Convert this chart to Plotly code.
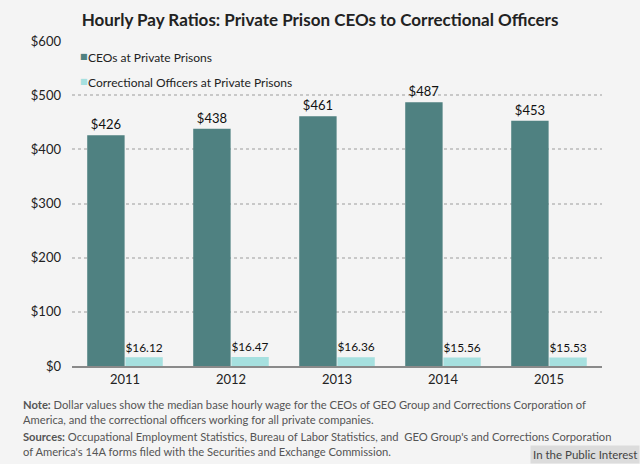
import plotly.graph_objects as go

years = ["2011", "2012", "2013", "2014", "2015"]
ceo_pay = [426, 438, 461, 487, 453]
officer_pay = [16.12, 16.47, 16.36, 15.56, 15.53]
ceo_labels = ["$426", "$438", "$461", "$487", "$453"]
officer_labels = ["$16.12", "$16.47", "$16.36", "$15.56", "$15.53"]
y_ticks = [0, 100, 200, 300, 400, 500, 600]
y_tick_labels = ["$0", "$100", "$200", "$300", "$400", "$500", "$600"]
series_names = ["CEOs at Private Prisons", "Correctional Officers at Private Prisons"]
series_colors = ["#4F8181", "#A6E0DF"]

FONT = "Lato"
W, H = 640, 464
L, R, T, B = 72, 38, 41, 98
PW = W - L - R
PH = H - T - B

def px(x):
    return (x - L) / PW

def py(y):
    return (H - B - y) / PH

fig = go.Figure()
fig.add_trace(go.Bar(
    x=years, y=ceo_pay, name=series_names[0], showlegend=False,
    marker=dict(color=series_colors[0], line=dict(width=0)),
    text=ceo_labels, textposition="outside", cliponaxis=False,
    textfont=dict(family=FONT, size=13, color="#111"),
))
fig.add_trace(go.Bar(
    x=years, y=officer_pay, name=series_names[1], showlegend=False,
    marker=dict(color=series_colors[1], line=dict(width=0)),
    text=officer_labels, textposition="outside", cliponaxis=False,
    textfont=dict(family=FONT, size=13, color="#111"),
))

annotations = []
for i, (nm, col) in enumerate(zip(series_names, series_colors)):
    yy = 58 + i * 24
    annotations.append(dict(text="■", x=px(78), y=py(yy - 1), xref="paper", yref="paper",
                            xanchor="left", yanchor="middle", showarrow=False,
                            font=dict(family="DejaVu Sans", size=8, color=col)))
    annotations.append(dict(text=nm, x=px(86), y=py(yy), xref="paper", yref="paper",
                            xanchor="left", yanchor="middle", showarrow=False,
                            font=dict(family=FONT, size=12, color="#222")))

annotations += [
    dict(text="<b>Note:</b> Dollar values show the median base hourly wage for the CEOs of GEO Group and Corrections Corporation of<br>America, and the correctional officers working for all private companies.",
         x=px(21), y=py(396), xref="paper", yref="paper", xanchor="left", yanchor="top",
         align="left", showarrow=False, font=dict(family=FONT, size=11.2, color="#555")),
    dict(text="<b>Sources:</b> Occupational Employment Statistics, Bureau of Labor Statistics, and  GEO Group's and Corrections Corporation<br>of America's 14A forms filed with the Securities and Exchange Commission.",
         x=px(21), y=py(428), xref="paper", yref="paper", xanchor="left", yanchor="top",
         align="left", showarrow=False, font=dict(family=FONT, size=11.2, color="#555")),
    dict(text="In the Public Interest",
         x=px(640), y=py(464), xref="paper", yref="paper", xanchor="right", yanchor="bottom",
         showarrow=False, bgcolor="#DCDCDC", borderpad=2,
         font=dict(family=FONT, size=11.5, color="#444")),
]

fig.update_layout(
    width=W, height=H,
    margin=dict(l=L, r=R, t=T, b=B),
    paper_bgcolor="#F4F4F4", plot_bgcolor="#F4F4F4",
    font=dict(family=FONT, color="#222"),
    title=dict(text="<b>Hourly Pay Ratios: Private Prison CEOs to Correctional Officers</b>",
               x=320 / W, xanchor="center", y=1 - 20 / H, yanchor="middle",
               font=dict(family=FONT, size=17, color="#222")),
    barmode="group", bargap=0.28, bargroupgap=0.02,
    showlegend=False,
    xaxis=dict(showline=True, linecolor="#8A8A8A", linewidth=2, ticks="",
               tickfont=dict(family=FONT, size=13, color="#222"), showgrid=False),
    yaxis=dict(range=[0, 600], tickvals=y_ticks, ticktext=y_tick_labels,
               showgrid=True, gridcolor="#C8C8C8", griddash="dot", gridwidth=1.5,
               zeroline=False, ticks="", ticklabelstandoff=10,
               tickfont=dict(family=FONT, size=13, color="#222")),
    annotations=annotations,
)

fig.write_html("out.html", config={"displayModeBar": False},
               post_script="document.body.style.margin='0';document.body.style.overflow='hidden';")
